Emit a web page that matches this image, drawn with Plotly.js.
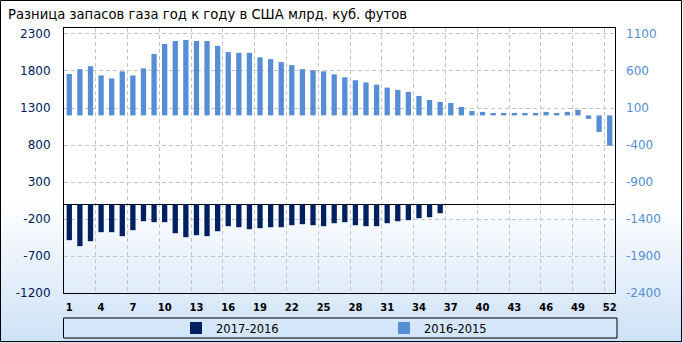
<!DOCTYPE html>
<html>
<head>
<meta charset="utf-8">
<script src="https://cdn.plot.ly/plotly-3.0.1.min.js"></script>
<style>
  html, body { margin: 0; padding: 0; background: #ffffff; }
  #chart {
    width: 683px; height: 343px;
    background: linear-gradient(180deg, #ffffff 0%, #ffffff 58%, #cde1f7 100%);
  }
</style>
</head>
<body>
<div id="chart"></div>
<script>
// Weeks of the year
const weeks = Array.from({length: 52}, (_, i) => i + 1);

// 2017-2016 difference (left axis), weeks 1..36
const diff2017_2016 = [
  -486, -567, -500, -378, -378, -432, -351, -230, -243, -243,
  -392, -446, -419, -432, -365, -297, -311, -338, -324, -311,
  -311, -284, -270, -284, -297, -257, -243, -284, -297, -297,
  -257, -230, -216, -189, -176, -122
];

// 2016-2015 difference (right axis), weeks 1..52
const diff2016_2015 = [
  560, 625, 665, 540, 500, 595, 540, 635, 830, 965,
  1005, 1020, 1005, 1005, 940, 855, 845, 845, 785, 760,
  720, 680, 625, 610, 595, 555, 515, 475, 445, 415,
  375, 345, 318, 263, 209, 182, 168, 114, 60, 47,
  33, 33, 33, 33, 33, 47, 33, 47, 74, -47,
  -223, -410
];

// Tick values and labels
const leftTicks = [-1200, -700, -200, 300, 800, 1300, 1800, 2300];
const leftTickText = ['-1200', '-700', '-200', '300', '800', '1300', '1800', '2300'];
const rightTicks = [-2400, -1900, -1400, -900, -400, 100, 600, 1100];
const rightTickText = ['-2400', '-1900', '-1400', '-900', '-400', '100', '600', '1100'];
const weekTicks = [1, 4, 7, 10, 13, 16, 19, 22, 25, 28, 31, 34, 37, 40, 43, 46, 49, 52];

const seriesNames = ['2017-2016', '2016-2015'];
const titleText = 'Разница запасов газа год к году в США млрд. куб. футов';

const darkBlue = '#002060';
const lightBlue = '#558ED5';
const gridStyle = {gridcolor: '#c4c4c4', griddash: '4px,3px', gridwidth: 1};

const traces = [
  {
    type: 'bar', name: seriesNames[0],
    x: weeks.slice(0, diff2017_2016.length), y: diff2017_2016,
    yaxis: 'y', width: 0.5,
    marker: {color: darkBlue},
    legend: 'legend',
    hoverinfo: 'x+y'
  },
  {
    type: 'bar', name: seriesNames[1],
    x: weeks, y: diff2016_2015,
    yaxis: 'y2', width: 0.5,
    marker: {color: lightBlue},
    legend: 'legend2',
    hoverinfo: 'x+y'
  }
];

const L = 64, R = 615, T = 28, B = 293;
const pw = R - L, ph = B - T;
const px = v => (v - L) / pw;
const py = v => (B - v) / ph;

const legendFont = {family: 'DejaVu Sans, Verdana, sans-serif', size: 11.5, color: '#000'};

const layout = {
  width: 683, height: 343,
  margin: {l: L, r: 683 - R, t: T, b: 343 - B, pad: 0, autoexpand: false},
  paper_bgcolor: 'rgba(0,0,0,0)',
  plot_bgcolor: 'rgba(0,0,0,0)',
  barmode: 'overlay',
  showlegend: true,
  title: {
    text: titleText,
    xref: 'container', yref: 'container',
    x: 8 / 683, xanchor: 'left',
    y: 1 - 14 / 343, yanchor: 'middle',
    font: {family: 'DejaVu Sans, Verdana, sans-serif', size: 13.2, color: '#000'}
  },
  xaxis: {
    range: [0.5, 52.5],
    tickmode: 'array', tickvals: weekTicks,
    showgrid: false, zeroline: false,
    showline: true, mirror: true, linecolor: '#000', linewidth: 1,
    ticks: '', ticklabelstandoff: 5,
    tickfont: {family: 'DejaVu Sans, Verdana, sans-serif', size: 10, color: '#000', weight: 'bold'},
    minor: Object.assign({tick0: 0.5, dtick: 3, showgrid: true, ticks: ''}, gridStyle)
  },
  yaxis: Object.assign({
    range: [-1200, 2381],
    tickmode: 'array', tickvals: leftTicks, ticktext: leftTickText,
    showgrid: true,
    zeroline: true, zerolinecolor: '#000', zerolinewidth: 1,
    showline: true, mirror: true, linecolor: '#000', linewidth: 1,
    ticks: '', ticklabelstandoff: 10,
    tickfont: {family: 'DejaVu Sans, Verdana, sans-serif', size: 12, color: darkBlue}
  }, gridStyle),
  yaxis2: {
    overlaying: 'y', side: 'right',
    range: [-2400, 1181],
    tickmode: 'array', tickvals: rightTicks, ticktext: rightTickText,
    showgrid: false, zeroline: false, showline: false,
    ticks: '', ticklabelstandoff: 10,
    tickfont: {family: 'DejaVu Sans, Verdana, sans-serif', size: 12, color: lightBlue}
  },
  legend: {
    orientation: 'h', x: px(176), y: py(328), xanchor: 'left', yanchor: 'middle',
    bgcolor: 'rgba(0,0,0,0)', borderwidth: 0, font: legendFont, itemwidth: 30
  },
  legend2: {
    orientation: 'h', x: px(384), y: py(328), xanchor: 'left', yanchor: 'middle',
    bgcolor: 'rgba(0,0,0,0)', borderwidth: 0, font: legendFont, itemwidth: 30
  },
  shapes: [
    {type: 'rect', xref: 'paper', yref: 'paper', layer: 'below',
     x0: px(63.5), x1: px(617), y0: py(338), y1: py(318),
     fillcolor: 'rgba(214,231,250,0.6)', line: {color: '#000', width: 1}},
    {type: 'rect', xref: 'paper', yref: 'paper', layer: 'above',
     x0: px(0.5), x1: px(681.5), y0: py(341.5), y1: py(0.5),
     fillcolor: 'rgba(0,0,0,0)', line: {color: '#000', width: 1}}
  ]
};

Plotly.newPlot('chart', traces, layout, {displayModeBar: false, staticPlot: true});
</script>
</body>
</html>
